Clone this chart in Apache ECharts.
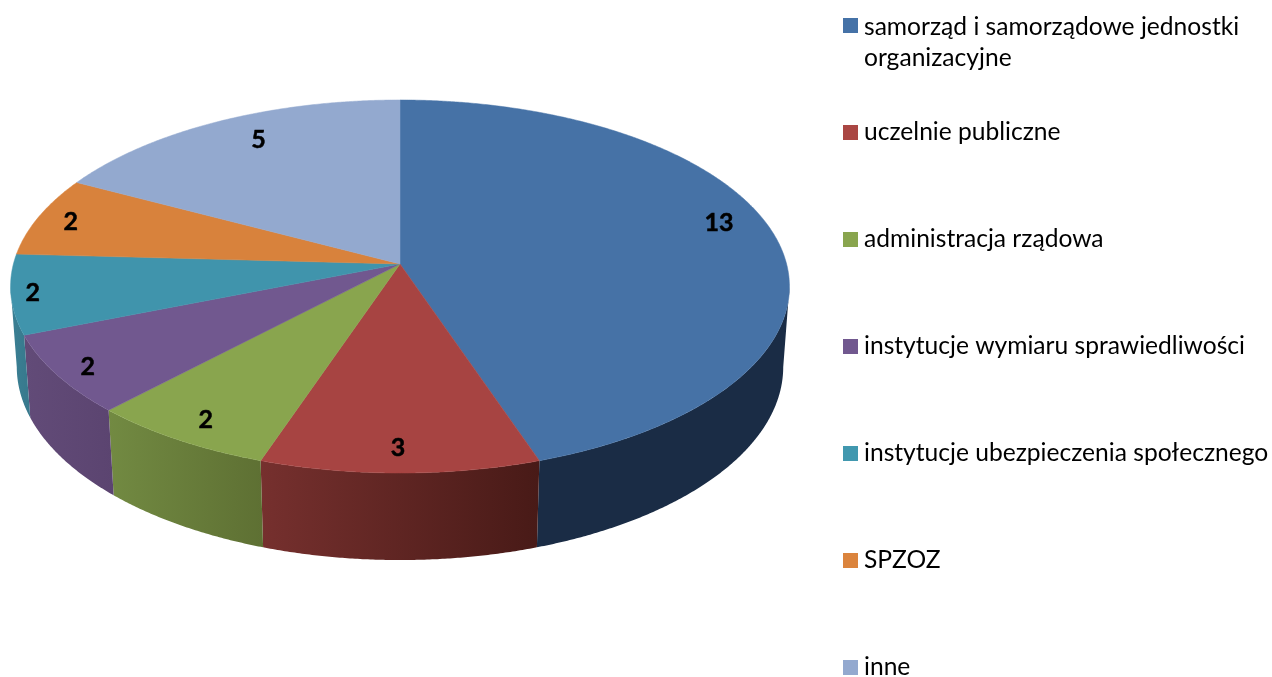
<!DOCTYPE html>
<html><head><meta charset="utf-8">
<style>html,body{margin:0;padding:0;background:#fff;overflow:hidden}#c{width:1272px;height:677px}</style>
<script src="https://cdn.jsdelivr.net/npm/echarts@6/dist/echarts.min.js"></script>
</head><body><div id="c"></div>
<script>
const categories = ['samorząd i samorządowe jednostki\norganizacyjne','uczelnie publiczne','administracja rządowa','instytucje wymiaru sprawiedliwości','instytucje ubezpieczenia społecznego','SPZOZ','inne'];
const values = [13,3,2,2,2,2,5];
const topColors = ['#4672A6','#A74442','#89A54E','#71588F','#4094AC','#D8823C','#93A9CF'];
const legendColors = ['#4572A7','#AA4643','#89A54E','#71588F','#4198AF','#DB843D','#93A9CF'];
const wallLeft = ['#1A2C45','#76302E','#728A42','#624B78','#3B8094','#8F5526','#5F7396'];
const wallRight = ['#1A2C45','#481A17','#5E7033','#5B4470','#37788C','#8F5526','#5F7396'];
const labelRadius = [0.85,0.889,0.885,0.915,0.945,0.91,0.76];
const labelDx = [0,-2,0,0,0,0,-1];
const labelDy = [-16,1,3,2,0,1,-13];

// projection of the tilted disc
const CX=400, CY=264, RX=386.6, RY=183.8, K=0.1207, HORIZON=-1259, C_BOT=1628.6, M=0.016;
const total = values.reduce((a,b)=>a+b,0);
const starts = values.map((v,i)=>values.slice(0,i).reduce((a,b)=>a+b,0)/total*Math.PI*2);
const ends = values.map((v,i)=>starts[i]+v/total*Math.PI*2);
// the visible side wall runs between the two silhouette rulings
const FOLD = Math.acos(-K), FRONT_A = FOLD, FRONT_B = Math.PI*2-FOLD;
function topPt(t,r){r=r===undefined?1:r;const x=r*Math.sin(t),y=-r*Math.cos(t),w=1-K*y;return [CX+RX*x/w,CY+RY*y/w];}
function botPt(t){const x=Math.sin(t),y=-Math.cos(t),w=1-K*y+M;return [CX+RX*x/w,HORIZON+C_BOT/w];}
function arc(fn,a,b){const n=Math.max(2,Math.ceil((b-a)/0.006));const p=[];for(let i=0;i<=n;i++)p.push(fn(a+(b-a)*i/n));return p;}

function makeRender(i){
  return function(params,api){
    const a=starts[i], b=ends[i], mid=(a+b)/2;
    const top=arc(t=>topPt(t),a,b);
    const lab=topPt(mid,labelRadius[i]);
    const children=[];
    const fa=Math.max(a,FRONT_A), fb=Math.min(b,FRONT_B);
    if(fb>fa){
      const wt=arc(t=>topPt(t),fa,fb), wb=arc(botPt,fa,fb);
      children.push({type:'polygon',z2:10,shape:{points:wt.concat(wb.slice().reverse())},
       style:{fill:{type:'linear',x:0,y:0,x2:1,y2:0,colorStops:[{offset:0,color:wallLeft[i]},{offset:1,color:wallRight[i]}]},stroke:null}});
    }
    children.push({type:'polygon',z2:100,shape:{points:[[CX,CY]].concat(top)},style:{fill:topColors[i],stroke:topColors[i],lineWidth:0.5}});
    children.push({type:'text',z2:200,style:{text:String(api.value(0)),x:lab[0]+labelDx[i],y:lab[1]+labelDy[i],align:'center',verticalAlign:'middle',
        font:'bold 25px Lato',fill:'#000',stroke:'#000',lineWidth:0.5}});
    return {type:'group',children};
  };
}
const sq='path://M0 0H15V15H0Z';
const chart=echarts.init(document.getElementById('c'),null,{renderer:'canvas'});
const textStyle={fontFamily:'Lato',fontSize:24.6,color:'#000',padding:[0,0,0,1]};
chart.setOption({
  backgroundColor:'#fff',animation:false,color:legendColors,
  legend:[
   {left:843,top:12,padding:0,orient:'vertical',selectedMode:false,itemWidth:15,itemHeight:50,
    data:[{name:categories[0],icon:'path://M0 0H15V15H0Z M0 50H0'}],textStyle:Object.assign({},textStyle,{lineHeight:31})},
   {left:843,top:120,height:640,padding:0,orient:'vertical',selectedMode:false,itemWidth:15,itemHeight:15,itemGap:82,
    data:categories.slice(1).map(n=>({name:n,icon:sq})),textStyle:textStyle}
  ],
  series:categories.map((name,i)=>({
    type:'custom',name,coordinateSystem:'none',silent:true,animation:false,
    itemStyle:{color:legendColors[i]},data:[[values[i]]],renderItem:makeRender(i)
  }))
});
</script></body></html>
